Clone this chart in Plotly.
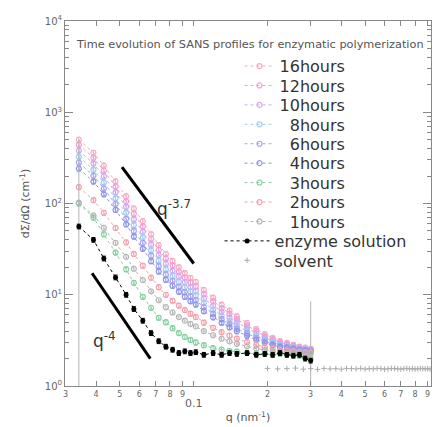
import plotly.graph_objects as go

# ---------------- data ----------------
q = [0.034, 0.039, 0.043, 0.048, 0.053, 0.057, 0.062, 0.067, 0.072, 0.077,
     0.082, 0.087, 0.092, 0.097, 0.102, 0.110, 0.120, 0.130, 0.140, 0.150,
     0.165, 0.180, 0.195, 0.210, 0.225, 0.240, 0.255, 0.270, 0.285, 0.300]

I_16h = [500, 360, 260, 175, 120, 88, 64, 46, 35, 28, 23.5, 20, 17.3, 15.3, 13.8,
         11.3, 9.3, 7.8, 6.7, 5.8, 4.9, 4.2, 3.7, 3.37, 3.1, 2.97, 2.83, 2.7, 2.63, 2.56]
I_12h = [440, 317, 229, 154, 106, 77, 56, 41, 31, 25, 21, 17.9, 15.5, 13.7, 12.4,
         10.2, 8.5, 7.1, 6.2, 5.4, 4.6, 4.0, 3.5, 3.24, 3.0, 2.89, 2.77, 2.65, 2.59, 2.53]
I_10h = [380, 274, 198, 133, 92, 67, 49, 35.5, 27.2, 21.8, 18.4, 15.8, 13.7, 12.2, 11.0,
         9.1, 7.6, 6.5, 5.6, 5.0, 4.3, 3.74, 3.36, 3.11, 2.91, 2.81, 2.7, 2.6, 2.55, 2.5]
I_8h = [325, 234, 170, 114, 79, 58, 42.4, 30.7, 23.6, 19.0, 16.1, 13.8, 12.0, 10.8, 9.8,
        8.15, 6.85, 5.9, 5.16, 4.58, 3.99, 3.54, 3.21, 3.0, 2.82, 2.74, 2.64, 2.56, 2.51, 2.47]
I_6h = [281, 202, 146, 99, 68, 50, 37, 26.8, 20.6, 16.7, 14.2, 12.2, 10.7, 9.6, 8.7,
        7.3, 6.2, 5.4, 4.76, 4.26, 3.76, 3.36, 3.08, 2.9, 2.75, 2.68, 2.6, 2.52, 2.48, 2.45]
I_4h = [241, 174, 126, 85, 59, 43.4, 31.9, 23.3, 18.0, 14.6, 12.5, 10.8, 9.5, 8.5, 7.8,
        6.6, 5.66, 4.94, 4.4, 3.98, 3.55, 3.21, 2.97, 2.81, 2.68, 2.62, 2.55, 2.49, 2.46, 2.42]
I_3h = [100, 70, 46, 29, 19, 13.5, 9.5, 7.2, 5.6, 5.0, 4.3, 3.8, 3.45, 3.2, 3.0,
        2.8, 2.6, 2.5, 2.42, 2.38, 2.3, 2.25, 2.25, 2.2, 2.25, 2.2, 2.2, 2.15, 2.05, 2.0]
I_2h = [151, 109, 79, 54, 37.5, 28, 20.8, 15.4, 12.1, 10.0, 8.6, 7.6, 6.8, 6.2, 5.7,
        4.95, 4.35, 3.9, 3.57, 3.3, 3.03, 2.82, 2.67, 2.57, 2.49, 2.45, 2.41, 2.37, 2.35, 2.33]
I_1h = [102, 74, 54, 37, 26, 19.3, 14.5, 10.9, 8.7, 7.3, 6.4, 5.7, 5.2, 4.8, 4.5,
        4.0, 3.6, 3.3, 3.08, 2.9, 2.72, 2.58, 2.48, 2.41, 2.36, 2.33, 2.3, 2.28, 2.27, 2.25]
err_1h = [400, 3, 2.2, 1.5, 1.1, 0.8, 0.6, 0.45, 0.36, 0.3, 0.26, 0.23, 0.21, 0.2, 0.18,
          0.16, 0.15, 0.14, 0.13, 0.12, 0.12, 0.11, 0.11, 0.11, 0.1, 0.1, 0.1, 0.1, 0.1, 6.2]
I_enz = [56, 40, 25, 15.5, 10, 7, 5.2, 3.8, 3.1, 2.7, 2.5, 2.3, 2.4, 2.3, 2.35,
         2.2, 2.3, 2.2, 2.3, 2.25, 2.3, 2.2, 2.25, 2.2, 2.3, 2.2, 2.15, 2.2, 2.0, 1.9]

q_solv = [0.20, 0.22, 0.24, 0.26, 0.28, 0.30, 0.32, 0.34, 0.36, 0.38, 0.40, 0.42,
          0.44, 0.46, 0.48, 0.50, 0.52, 0.54, 0.56, 0.58, 0.60, 0.62, 0.64, 0.66,
          0.68, 0.70, 0.72, 0.74, 0.76, 0.78, 0.80, 0.82, 0.84, 0.86, 0.88, 0.90, 0.92]
I_solv = [1.56, 1.54, 1.55, 1.57, 1.53, 1.55, 1.52, 1.56, 1.54, 1.55, 1.53, 1.56,
          1.55, 1.54, 1.56, 1.53, 1.55, 1.54, 1.56, 1.55, 1.53, 1.54, 1.56, 1.55,
          1.54, 1.53, 1.55, 1.56, 1.54, 1.55, 1.53, 1.54, 1.56, 1.55, 1.54, 1.55, 1.53]

guide_q37 = [0.051, 0.100]
guide_I37 = [250, 22]
guide_q4 = [0.0385, 0.0665]
guide_I4 = [17.2, 2.0]

series_names = ["16hours", "12hours", "10hours", "\u20078hours", "\u20076hours",
                "\u20074hours", "\u20073hours", "\u20072hours", "\u20071hours"]
series_vals = [I_16h, I_12h, I_10h, I_8h, I_6h, I_4h, I_3h, I_2h, I_1h]
series_colors = ["#f5aec0", "#f1a0d6", "#d4a8ee", "#9fcdf2", "#a9a3ee",
                 "#8f95e6", "#86d0a2", "#f4a2ae", "#b4b4b4"]

x_tickvals = [0.03, 0.04, 0.05, 0.06, 0.07, 0.08, 0.09, 0.1,
              0.2, 0.3, 0.4, 0.5, 0.6, 0.7, 0.8, 0.9]
x_ticktext = ["3", "4", "5", "6", "7", "8", "9",
              "\u00a0<br><span style='font-size:11px'>0.1</span>",
              "2", "3", "4", "5", "6", "7", "8", "9"]
y_tickvals = [1, 10, 100, 1000, 10000]
y_ticktext = ["10<sup>0</sup>", "10<sup>1</sup>", "10<sup>2</sup>",
              "10<sup>3</sup>", "10<sup>4</sup>"]
y_minorvals = [2, 3, 4, 5, 6, 7, 8, 9,
               20, 30, 40, 50, 60, 70, 80, 90,
               200, 300, 400, 500, 600, 700, 800, 900,
               2000, 3000, 4000, 5000, 6000, 7000, 8000, 9000]

# ---------------- figure ----------------
W, H = 437, 427
ML, MR, MT, MB = 65, 5, 21, 34
PW, PH = W - ML - MR, H - MT - MB


def px_to_paper_x(px):
    return (px - ML) / PW


def px_to_paper_y(py):
    return 1 - (py - MT) / PH


legend_keys = ["legend"] + ["legend%d" % i for i in range(2, 12)]
# row centre (pixels), left edge (pixels), item width for each legend row
row_y = [67, 86.8, 106.6, 126.4, 146.2, 166, 185.8, 205.6, 225.4, 245.2, 265]
row_left = [240] * 9 + [220, 220]
row_itemwidth = [30] * 9 + [45, 45]

fig = go.Figure()

for k, (name, vals, color) in enumerate(zip(series_names, series_vals, series_colors)):
    if name.endswith("1hours"):
        err = dict(type="data", array=err_1h, color=color, thickness=1, width=0)
    else:
        err = dict(type="percent", value=6, color=color, thickness=1, width=2)
    fig.add_trace(go.Scatter(
        x=q, y=vals, name=name, mode="lines+markers", legend=legend_keys[k],
        line=dict(color=color, width=1, dash="dot"),
        marker=dict(symbol="circle-open", size=5, color=color, line=dict(width=1.2)),
        error_y=err))

fig.add_trace(go.Scatter(
    x=q, y=I_enz, name="enzyme solution", mode="lines+markers", legend=legend_keys[9],
    line=dict(color="black", width=1, dash="dot"),
    marker=dict(symbol="circle", size=5, color="black"),
    error_y=dict(type="percent", value=6, color="black", thickness=1, width=2)))

fig.add_trace(go.Scatter(
    x=q_solv, y=I_solv, name="solvent", mode="markers", legend=legend_keys[10],
    marker=dict(symbol="cross-thin", size=4, color="#aaaaaa",
                line=dict(width=1, color="#aaaaaa"))))

fig.add_trace(go.Scatter(x=guide_q37, y=guide_I37, mode="lines", showlegend=False,
                         line=dict(color="black", width=3), hoverinfo="skip"))
fig.add_trace(go.Scatter(x=guide_q4, y=guide_I4, mode="lines", showlegend=False,
                         line=dict(color="black", width=3), hoverinfo="skip"))

axis_color = "#888888"
fig.update_xaxes(
    type="log", range=[-1.525, -0.032],
    tickmode="array", tickvals=x_tickvals, ticktext=x_ticktext, tickangle=0,
    ticks="inside", ticklen=5, tickcolor=axis_color,
    showline=True, linecolor=axis_color, linewidth=1, mirror="allticks",
    showgrid=False, zeroline=False,
    tickfont=dict(family="DejaVu Sans", size=8, color="#666666"),
    title=dict(text="q (nm<sup>-1</sup>)", standoff=4,
               font=dict(family="DejaVu Sans", size=11, color="#555555")))

fig.update_yaxes(
    type="log", range=[0, 4],
    tickmode="array", tickvals=y_tickvals, ticktext=y_ticktext,
    ticks="inside", ticklen=8, tickcolor=axis_color,
    minor=dict(tickmode="array", tickvals=y_minorvals, ticks="inside", ticklen=4,
               tickcolor=axis_color, showgrid=False),
    showline=True, linecolor=axis_color, linewidth=1, mirror="allticks",
    showgrid=False, zeroline=False,
    tickfont=dict(family="DejaVu Sans", size=10, color="#666666"),
    title=dict(text="d\u03a3/d\u03a9 (cm<sup>-1</sup>)", standoff=12,
               font=dict(family="DejaVu Sans", size=11, color="#555555")))

fig.add_annotation(x=-1.08, y=1.95, xref="x", yref="y", showarrow=False,
                   text="q<sup>-3.7</sup>",
                   font=dict(family="DejaVu Sans", size=17, color="#333333"))
fig.add_annotation(x=-1.362, y=0.5, xref="x", yref="y", showarrow=False,
                   text="q<sup>-4</sup>",
                   font=dict(family="DejaVu Sans", size=17, color="#333333"))
fig.add_annotation(x=px_to_paper_x(74), y=px_to_paper_y(45), xref="paper", yref="paper",
                   xanchor="left", yanchor="middle", showarrow=False,
                   text="Time evolution of SANS profiles for enzymatic polymerization",
                   font=dict(family="DejaVu Sans", size=11.3, color="#555555"))

layout_legends = {}
for key, py, pl, iw in zip(legend_keys, row_y, row_left, row_itemwidth):
    layout_legends[key] = dict(
        x=px_to_paper_x(pl), y=px_to_paper_y(py), xanchor="left", yanchor="middle",
        bgcolor="rgba(0,0,0,0)", borderwidth=0, itemwidth=iw,
        font=dict(family="DejaVu Sans", size=16, color="#333333"))

fig.update_layout(
    width=W, height=H,
    margin=dict(l=ML, r=MR, t=MT, b=MB),
    paper_bgcolor="white", plot_bgcolor="white",
    font=dict(family="DejaVu Sans", color="#444444"),
    **layout_legends,
)

fig.write_html("out.html")
